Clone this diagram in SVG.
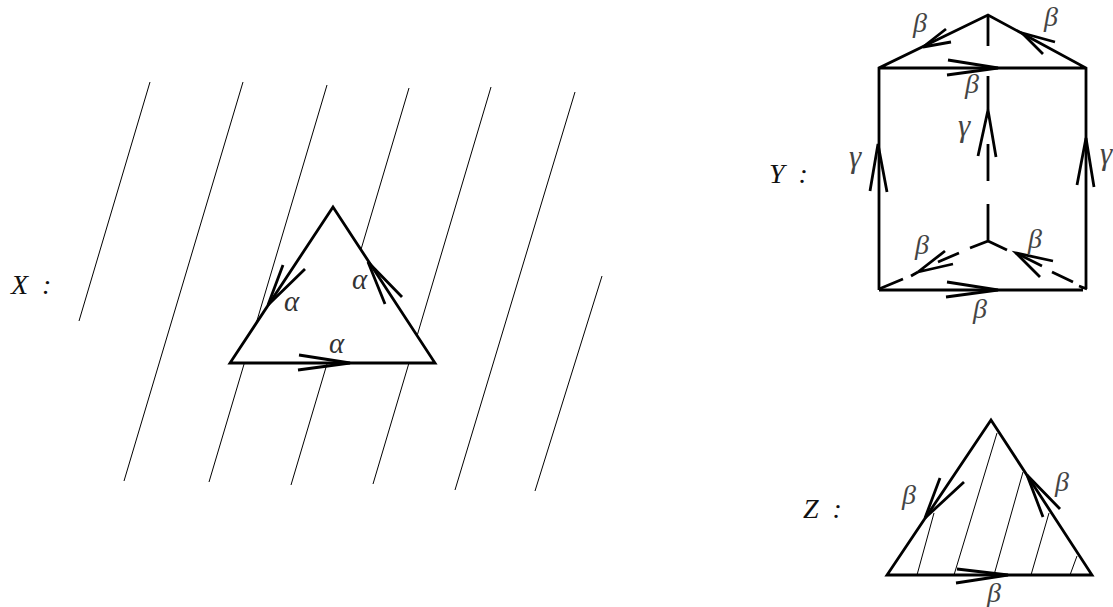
<svg xmlns="http://www.w3.org/2000/svg" width="1113" height="607" viewBox="0 0 1113 607">
<style>
.thin{stroke:#000;stroke-width:1;fill:none}
.bold{stroke:#000;stroke-width:2.8;fill:none;stroke-linejoin:miter}
.tri{stroke:#000;stroke-width:2.8;fill:#fff}
.lab{font-family:"Liberation Serif",serif;font-style:italic;font-size:28px;fill:#111;word-spacing:7px}
.g{font-family:"Liberation Serif",serif;font-style:italic;font-size:28px;fill:#444}
.c{font-family:"Liberation Serif",serif;font-style:italic;font-size:31px;fill:#444}
.a{font-family:"Liberation Serif",serif;font-style:italic;font-size:29px;fill:#333}
</style>
<rect width="1113" height="607" fill="#fff"/>
<g id="X">
<path class="thin" d="M150 82L79 321M243 82L124 481M327 85L209 482M409 88L291 485M491 87L373 484M575 92L455 490M602 276L535 491"/>
<path class="tri" d="M333 207L230 363H435Z"/>
<path class="bold" d="M283 265L268 305L305 269M385 304L368 262L402 297M299 355L350 363L298 370"/>
<text class="lab" x="11" y="294">X :</text>
<text class="a" x="284" y="311">α</text>
<text class="a" x="352" y="289">α</text>
<text class="a" x="329" y="353">α</text>
</g>
<g id="Y">
<path class="bold" d="M879 290V68L988 15L1086 68V289M879 68H1086M879 290H1083M1079 286L1087 289"/>
<path class="bold" d="M988 15V46M988 76V110M988 144V181M988 204V241L970 248M959 253L938 262M918 272L911 276M903 279L879 289M988 241L1007 250M1016 253L1042 266M1052 272L1073 282"/>
<path class="bold" d="M870 191L878 144L887 192M1077 185L1086 138L1094 187M978 156L988 110L996 157M946 29L923 47L951 42M1055 42L1022 33L1043 54M948 60L998 68L947 75M945 251L918 272L953 264M1053 261L1016 253L1040 277M947 282L998 290L946 297"/>
<text class="lab" x="769" y="183">Y :</text>
<text class="g" x="913" y="32">β</text>
<text class="g" x="1044" y="26">β</text>
<text class="g" x="965" y="93">β</text>
<text class="g" x="915" y="254">β</text>
<text class="g" x="1028" y="248">β</text>
<text class="g" x="973" y="318">β</text>
<text class="c" x="958" y="136">γ</text>
<text class="c" x="849" y="167">γ</text>
<text class="c" x="1100" y="164">γ</text>
</g>
<g id="Z">
<path class="tri" d="M991 420L887 575H1092Z"/>
<path class="thin" d="M997 433L954 575M1023 472L994 575M934 513L917 575M1049 513L1031 575M1077 556L1070 575"/>
<path class="bold" d="M940 478L925 518L964 482M1043 517L1027 475L1060 509M957 569L1008 575L956 583"/>
<text class="lab" x="803" y="518">Z :</text>
<text class="g" x="902" y="504">β</text>
<text class="g" x="1055" y="491">β</text>
<text class="g" x="987" y="602">β</text>
</g>
</svg>
